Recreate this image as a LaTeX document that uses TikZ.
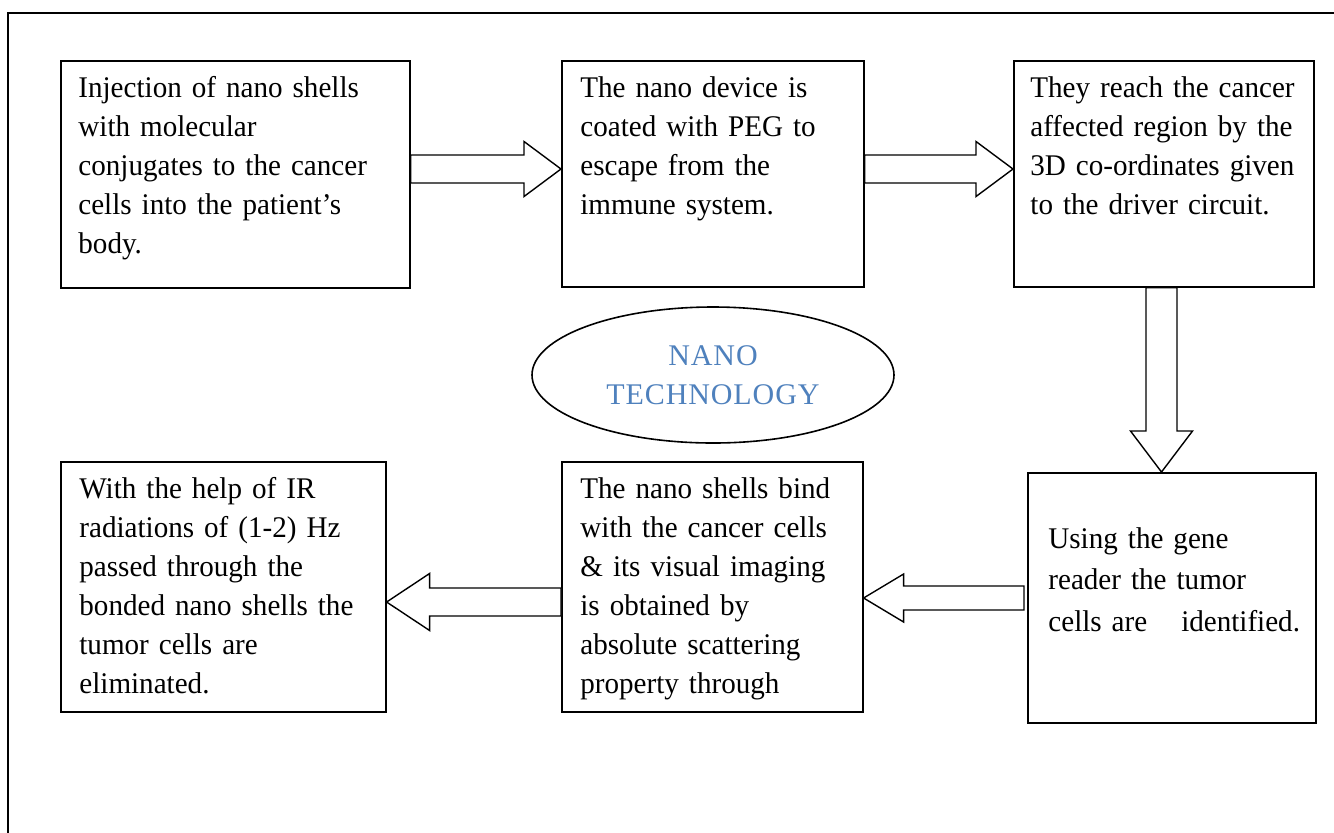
\documentclass[tikz,border=0pt]{standalone}
\usepackage{fontspec}
\setmainfont{Liberation Serif}[FakeStretch=0.97]
\newfontfamily\spacedserif{Liberation Serif}[LetterSpace=3]
\usetikzlibrary{shapes.geometric,calc}
\definecolor{nanoblue}{HTML}{4F81BD}

% horizontal block arrow: tail, tip, half shaft, half head, head-base offset from tip
\newcommand\hblock[5]{%
  \draw[blockarrow] ($(#1)+(0,-#3)$) -- ($(#2)+(#5,-#3)$) -- ($(#2)+(#5,-#4)$)
    -- (#2) -- ($(#2)+(#5,#4)$) -- ($(#2)+(#5,#3)$) -- ($(#1)+(0,#3)$) -- cycle;}
% vertical block arrow
\newcommand\vblock[5]{%
  \draw[blockarrow] ($(#1)+(-#3,0)$) -- ($(#2)+(-#3,#5)$) -- ($(#2)+(-#4,#5)$)
    -- (#2) -- ($(#2)+(#4,#5)$) -- ($(#2)+(#3,#5)$) -- ($(#1)+(#3,0)$) -- cycle;}

\tikzset{
  stepbox/.style={draw, line width=0.8pt, inner sep=0pt, anchor=north west},
  txt/.style={anchor=north west, inner sep=0pt, text width=180pt, align=left,
    font=\fontsize{15pt}{19.5pt}\selectfont, execute at begin node=\strut},
  blockarrow/.style={draw, line width=0.7pt, fill=white, line join=miter},
  frame/.style={line width=1.3pt},
}

\begin{document}
\begin{tikzpicture}[x=0.5pt, y=-0.5pt]
\clip (0,0) rectangle (1334,832);
\fill[white] (0,0) rectangle (1334,832);

% page frame (only its left and top edges fall inside the picture)
\coordinate (fbl) at (8,900);
\coordinate (ftl) at (8,13);
\coordinate (ftr) at (1400,13);
\draw[frame] (fbl) -- (ftl) -- (ftr);

% boxes
\node[stepbox, minimum width=174.5pt, minimum height=113.5pt] (b1) at (60,60) {};
\node[stepbox, minimum width=151pt, minimum height=113pt] (b2) at (561,60) {};
\node[stepbox, minimum width=150pt, minimum height=113pt] (b3) at (1013,60) {};
\node[stepbox, minimum width=144pt, minimum height=125pt] (b4) at (1027,472) {};
\node[stepbox, minimum width=150.5pt, minimum height=125pt] (b5) at (561,461) {};
\node[stepbox, minimum width=162.5pt, minimum height=125pt] (b6) at (60,461) {};

% texts
\node[txt] (t1) at ($(b1.north west)+(18,9.7)$)
  {Injection of nano shells\\with molecular\\conjugates to the cancer\\cells into the patient’s\\body.};
\node[txt] (t2) at ($(b2.north west)+(19,9.7)$)
  {The nano device is\\coated with PEG to\\escape from the\\immune system.};
\node[txt] (t3) at ($(b3.north west)+(17,9.7)$)
  {They reach the cancer\\affected region by the\\3D co-ordinates given\\to the driver circuit.};
\node[txt, font=\fontsize{15pt}{20.75pt}\selectfont] (t4) at ($(b4.north west)+(21,47)$)
  {Using the gene\\reader the tumor\\cells are\hspace{12pt} identified.};
\node[txt] (t5) at ($(b5.north west)+(19,9.7)$)
  {The nano shells bind\\with the cancer cells\\\& its visual imaging\\is obtained by\\absolute scattering\\property through};
\node[txt] (t6) at ($(b6.north west)+(19,9.7)$)
  {With the help of IR\\radiations of (1-2) Hz\\passed through the\\bonded nano shells the\\tumor cells are\\eliminated.};

% centre label
\node[ellipse, draw, line width=0.8pt, minimum width=181pt, minimum height=68pt,
  inner sep=0pt, align=center, text=nanoblue,
  font=\spacedserif\fontsize{15pt}{19.5pt}\selectfont] (nano) at (713,375)
  {NANO\\TECHNOLOGY};

% block arrows
\coordinate (a1s) at ($(b1.north east)+(0,109)$);
\coordinate (a1e) at ($(b2.north west)+(0,109)$);
\hblock{a1s}{a1e}{14}{27.5}{-37}
\coordinate (a2s) at ($(b2.north east)+(0,109)$);
\coordinate (a2e) at ($(b3.north west)+(0,109)$);
\hblock{a2s}{a2e}{14}{27.5}{-37}
\coordinate (a3s) at ($(b3.south west)+(148.5,0)$);
\coordinate (a3e) at ($(b4.north west)+(134.5,0)$);
\vblock{a3s}{a3e}{15.5}{31}{-41}
\coordinate (a4s) at ($(b4.north west)+(-3,126)$);
\coordinate (a4e) at ($(b5.north east)+(0,137)$);
\hblock{a4s}{a4e}{12}{24}{40}
\coordinate (a5s) at ($(b5.north west)+(0,141)$);
\coordinate (a5e) at ($(b6.north east)+(0,141)$);
\hblock{a5s}{a5e}{14}{28.5}{43}
\end{tikzpicture}
\end{document}
